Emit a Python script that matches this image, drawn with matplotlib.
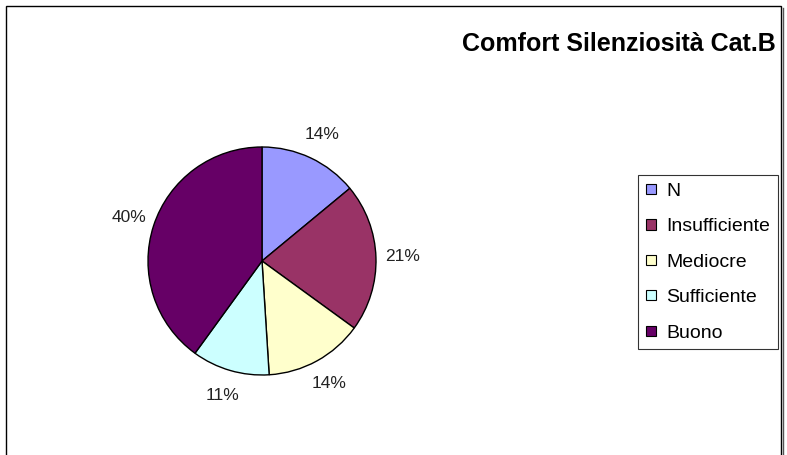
import numpy as np
import matplotlib.pyplot as plt
from matplotlib.patches import Rectangle, Patch

plt.rcParams['font.family'] = ['Liberation Sans', 'DejaVu Sans']

categories = ['N', 'Insufficiente', 'Mediocre', 'Sufficiente', 'Buono']
percentages = [14, 21, 14, 11, 40]
colors = ['#9999FF', '#993366', '#FFFFCC', '#CCFFFF', '#660066']

W, H = 787, 455
fig = plt.figure(figsize=(W / 100, H / 100), dpi=100)

# outer frame with a thin shadow on the right
fig.patches.append(Rectangle((6 / W, -0.1), 775 / W, 1.1 - 6 / H, transform=fig.transFigure,
                             fill=False, edgecolor='black', linewidth=1.0))
fig.lines.append(plt.Line2D([783 / W, 783 / W], [0, 1 - 8 / H], transform=fig.transFigure,
                            color='#555555', linewidth=1.0))

# pie axes: center (262, 261) px, radius 114 px
cx, cy, r = 262, 261, 114
ax = fig.add_axes([(cx - r) / W, (H - cy - r) / H, 2 * r / W, 2 * r / H])
wedges, texts = ax.pie(percentages, colors=colors, startangle=90, counterclock=False,
                       wedgeprops=dict(edgecolor='black', linewidth=1.0))

# value labels outside the slices
total = sum(percentages)
start = 90.0
for p in percentages:
    mid = np.deg2rad(start - 360.0 * p / total / 2)
    start -= 360.0 * p / total
    ax.text(1.23 * np.cos(mid), 1.23 * np.sin(mid), f'{p}%', ha='center', va='center',
            fontsize=12.5, color='#222222')
ax.set_xlim(-1, 1)
ax.set_ylim(-1, 1)
ax.axis('off')

fig.text(776 / W, 1 - 44 / H, 'Comfort Silenziosità Cat.B', ha='right', va='center',
         fontsize=18, fontweight='bold')

handles = [Patch(facecolor=c, edgecolor='black', linewidth=0.8) for c in colors]
leg = fig.legend(handles, categories, loc='upper left', bbox_to_anchor=(638 / W, 1 - 175 / H),
                 fontsize=14, frameon=True, fancybox=False, edgecolor='black',
                 handlelength=0.5, handleheight=0.45, handletextpad=0.55, labelspacing=0.95,
                 borderpad=0.4, borderaxespad=0)
leg.get_frame().set_linewidth(0.8)

plt.savefig('out.png', dpi=100)
